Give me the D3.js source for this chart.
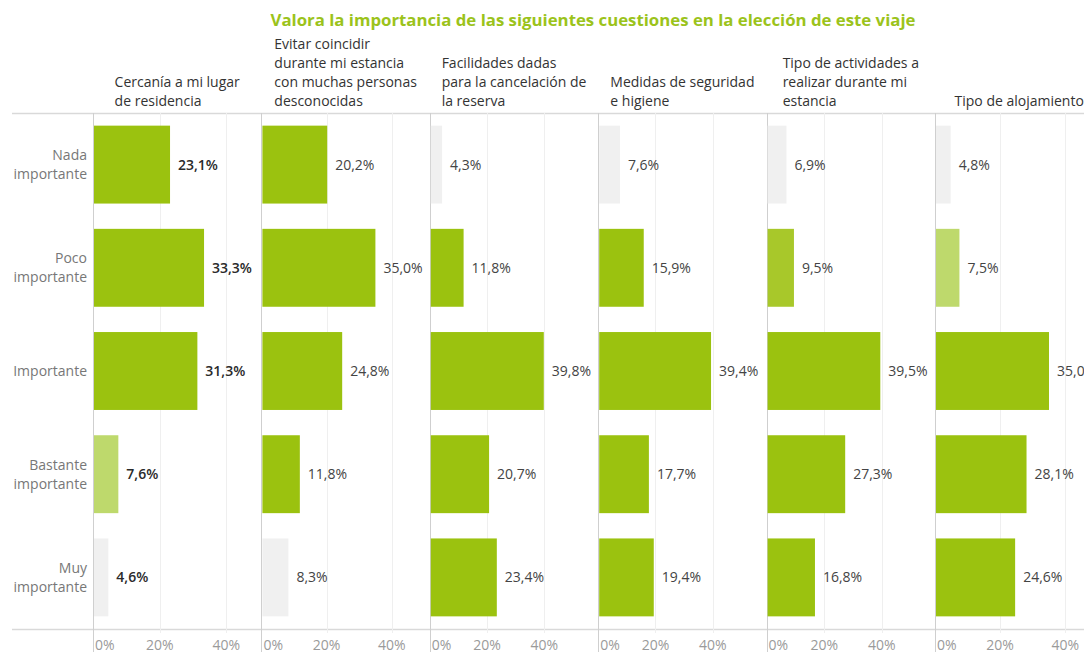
<!DOCTYPE html>
<html>
<head>
<meta charset="utf-8">
<script src="https://cdn.jsdelivr.net/npm/d3@7"></script>
<style>
  body { margin: 0; background: #fff; }
  svg { display: block; font-family: "Open Sans", sans-serif; }
</style>
</head>
<body>
<div id="chart"></div>
<script>
var title = "Valora la importancia de las siguientes cuestiones en la elección de este viaje";

// column headers (one entry per panel, already wrapped)
var questions = [
  ["Cercanía a mi lugar", "de residencia"],
  ["Evitar coincidir", "durante mi estancia", "con muchas personas", "desconocidas"],
  ["Facilidades dadas", "para la cancelación de", "la reserva"],
  ["Medidas de seguridad", "e higiene"],
  ["Tipo de actividades a", "realizar durante mi", "estancia"],
  ["Tipo de alojamiento"]
];

var levels = [
  ["Nada", "importante"],
  ["Poco", "importante"],
  ["Importante"],
  ["Bastante", "importante"],
  ["Muy", "importante"]
];

// % per question (rows follow levels)
var values = [
  [23.1, 33.3, 31.3, 7.6, 4.6],
  [20.2, 35.0, 24.8, 11.8, 8.3],
  [4.3, 11.8, 39.8, 20.7, 23.4],
  [7.6, 15.9, 39.4, 17.7, 19.4],
  [6.9, 9.5, 39.5, 27.3, 16.8],
  [4.8, 7.5, 35.0, 28.1, 24.6]
];

// colour class of each bar: 0 full green, 1 mid green, 2 pale green, 3 grey
var tones = [
  [0, 0, 0, 2, 3],
  [0, 0, 0, 0, 3],
  [3, 0, 0, 0, 0],
  [3, 0, 0, 0, 0],
  [3, 1, 0, 0, 0],
  [3, 2, 0, 0, 0]
];

// independent x axis per panel (max %)
var axisMax = [50.5, 51.7, 58.8, 58.8, 58.5, 51.7];
var ticks = [0, 20, 40];

var width = 1084, height = 652;
var plotTop = 113, plotBottom = 629;
var panelLeft = 93, panelW = 168.4;
var toneColor = ["#9bc20f", "#a8c82a", "#bed96c", "#f0f0f0"];

var es = d3.formatLocale({ decimal: ",", thousands: ".", grouping: [3], currency: ["", "€"] });
var fmt = es.format(".1f");

var svg = d3
  .select("#chart")
  .append("svg")
  .attr("width", width)
  .attr("height", height);

// Title
svg
  .append("text")
  .attr("x", 593)
  .attr("y", 26)
  .attr("text-anchor", "middle")
  .attr("font-size", "16.8px")
  .attr("font-weight", "bold")
  .attr("fill", "#9bc31b")
  .text(title);

var y = d3
  .scaleBand()
  .domain(d3.range(levels.length))
  .range([plotTop, plotBottom])
  .paddingInner(0.245)
  .paddingOuter(0.1225);

// Row labels
var rowLab = svg
  .selectAll(".rowlab")
  .data(levels)
  .enter()
  .append("text")
  .attr("class", "rowlab")
  .attr("text-anchor", "end")
  .attr("font-size", "14px")
  .attr("fill", "#777");

rowLab.each(function (d, i) {
  var cy = y(i) + y.bandwidth() / 2;
  var lh = 19;
  var y0 = cy - ((d.length - 1) * lh) / 2 + 5;
  d3.select(this)
    .selectAll("tspan")
    .data(d)
    .enter()
    .append("tspan")
    .attr("x", 87)
    .attr("y", function (t, k) {
      return y0 + k * lh;
    })
    .text(function (t) {
      return t;
    });
});

// horizontal frame lines
[plotTop, plotBottom].forEach(function (yy) {
  svg
    .append("line")
    .attr("x1", 12)
    .attr("x2", width)
    .attr("y1", yy + 0.5)
    .attr("y2", yy + 0.5)
    .style("stroke", "#d9d9d9")
    .style("stroke-width", "1.5px");
});

questions.forEach(function (q, p) {
  var x0 = panelLeft + p * panelW;
  var x = d3.scaleLinear().domain([0, axisMax[p]]).range([x0, x0 + panelW]);
  var g = svg.append("g");

  // gridlines
  g.selectAll(".grid")
    .data(ticks.slice(1))
    .enter()
    .append("line")
    .attr("x1", function (d) { return Math.round(x(d)) + 0.5; })
    .attr("x2", function (d) { return Math.round(x(d)) + 0.5; })
    .attr("y1", plotTop)
    .attr("y2", plotBottom + 4)
    .style("stroke", "#efefef")
    .style("stroke-width", "1px");

  // panel zero line
  g.append("line")
    .attr("x1", Math.round(x(0)) + 0.5)
    .attr("x2", Math.round(x(0)) + 0.5)
    .attr("y1", plotTop)
    .attr("y2", height)
    .style("stroke", "#cfcfcf")
    .style("stroke-width", "1px");

  // bars
  g.selectAll(".bar")
    .data(values[p])
    .enter()
    .append("rect")
    .attr("x", x(0) + 1)
    .attr("y", function (d, i) { return y(i); })
    .attr("width", function (d) { return x(d) - x(0) - 1; })
    .attr("height", y.bandwidth())
    .style("fill", function (d, i) { return toneColor[tones[p][i]]; });

  // value labels
  g.selectAll(".val")
    .data(values[p])
    .enter()
    .append("text")
    .attr("x", function (d) { return x(d) + 8; })
    .attr("y", function (d, i) { return y(i) + y.bandwidth() / 2 + 5; })
    .attr("font-size", "14px")
    .attr("font-weight", p === 0 ? 600 : 400)
    .attr("fill", p === 0 ? "#2a2a2a" : "#444")
    .text(function (d) { return fmt(d) + "%"; });

  // tick labels
  g.selectAll(".tick")
    .data(ticks)
    .enter()
    .append("text")
    .attr("x", function (d) { return d === 0 ? x(0) + 2 : x(d); })
    .attr("y", 650)
    .attr("text-anchor", function (d) { return d === 0 ? "start" : "middle"; })
    .attr("font-size", "14px")
    .attr("fill", "#9a9a9a")
    .text(function (d) { return d + "%"; });

  // header
  var head = svg
    .append("text")
    .attr("font-size", "14px")
    .attr("fill", "#333");
  var lh = 19;
  var yLast = 106;
  head.selectAll("tspan")
    .data(q)
    .enter()
    .append("tspan")
    .attr("y", function (t, k) { return yLast - (q.length - 1 - k) * lh; })
    .text(function (t) { return t; });
  var maxW = 0;
  head.selectAll("tspan").each(function () {
    maxW = Math.max(maxW, this.getComputedTextLength());
  });
  head.selectAll("tspan").attr("x", x0 + panelW / 2 - maxW / 2);
});
</script>
</body>
</html>
